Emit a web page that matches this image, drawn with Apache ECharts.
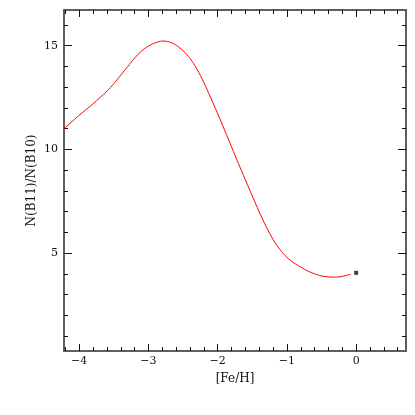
<!DOCTYPE html>
<html>
<head>
<meta charset="utf-8">
<script src="https://cdn.jsdelivr.net/npm/echarts@6/dist/echarts.min.js"></script>
<style>html,body{margin:0;padding:0;background:#fff}#c{width:415px;height:415px}</style>
</head>
<body>
<div id="c"></div>
<script>
// Model curve: [Fe/H] vs N(B11)/N(B10)
var feh = [-4.22,-4.1,-4.0,-3.9,-3.8,-3.7,-3.6,-3.5,-3.4,-3.3,-3.2,-3.1,-3.0,-2.9,-2.8,-2.7,-2.6,-2.5,-2.4,-2.3,-2.2,-2.1,-2.0,-1.9,-1.8,-1.7,-1.6,-1.5,-1.4,-1.3,-1.2,-1.1,-1.0,-0.9,-0.8,-0.7,-0.6,-0.5,-0.4,-0.3,-0.2,-0.08];
var ratio = [11.0,11.35,11.65,11.92,12.2,12.5,12.8,13.17,13.58,13.99,14.4,14.74,14.98,15.14,15.22,15.18,15.02,14.75,14.38,13.87,13.22,12.48,11.72,10.93,10.12,9.32,8.53,7.75,6.99,6.28,5.66,5.17,4.8,4.53,4.32,4.14,4.0,3.9,3.85,3.84,3.88,3.98];
// Observed (solar) point
var obsFeh = [0];
var obsRatio = [4.05];
// Axis ticks
var xMajor = [-4,-3,-2,-1,0];
var yMajor = [5,10,15];
var xRange = [-4.22, 0.72];
var yRange = [0.28, 16.72];

var xMinor = [];
for (var i = -21; i <= 3; i++) { if (i % 5 !== 0) xMinor.push(+(i*0.2).toFixed(1)); }
var yMinor = [];
for (var j = 1; j <= 16; j++) { if (j % 5 !== 0) yMinor.push(j); }

var lineData = feh.map(function(x,k){return [x, ratio[k]];});
var obsData = obsFeh.map(function(x,k){return [x, obsRatio[k]];});

var FONT = 'DejaVu Serif';
var axisLine = {show:true, onZero:false, lineStyle:{color:'#555', width:1.5}};
function fmt(v){ return v < 0 ? '\u2212' + Math.abs(v) : String(v); }

function xAx(pos, ticks, len, labels){
  return {
    type:'value', position:pos, min:xRange[0], max:xRange[1],
    axisLine: axisLine, splitLine:{show:false},
    axisTick:{show:true, inside:true, length:len, customValues:ticks, lineStyle:{color:'#111', width:1}},
    axisLabel: labels ? {show:true, customValues:xMajor, formatter:fmt, fontFamily:FONT, fontSize:11, color:'#111', margin:5} : {show:false},
    name: labels ? '[Fe/H]' : '', nameLocation:'middle', nameGap:22, nameMoveOverlap:false,
    nameTextStyle:{fontFamily:FONT, fontSize:12, color:'#111'}
  };
}
function yAx(pos, ticks, len, labels){
  return {
    type:'value', position:pos, min:yRange[0], max:yRange[1],
    axisLine: axisLine, splitLine:{show:false},
    axisTick:{show:true, inside:true, length:len, customValues:ticks, lineStyle:{color:'#111', width:1}},
    axisLabel: labels ? {show:true, customValues:yMajor, formatter:fmt, fontFamily:FONT, fontSize:11, color:'#111', margin:6} : {show:false},
    name: labels ? 'N(B11)/N(B10)' : '', nameLocation:'middle', nameGap:26, nameRotate:90, nameMoveOverlap:false,
    nameTextStyle:{fontFamily:FONT, fontSize:12, color:'#111'}
  };
}

var chart = echarts.init(document.getElementById('c'), null, {renderer:'canvas'});
chart.setOption({
  animation:false,
  backgroundColor:'#fff',
  grid:{left:64, right:9, top:10, bottom:64, containLabel:false},
  xAxis:[xAx('bottom', xMajor, 7, true), xAx('bottom', xMinor, 4, false), xAx('top', xMajor, 7, false), xAx('top', xMinor, 4, false)],
  yAxis:[yAx('left', yMajor, 8, true), yAx('left', yMinor, 4, false), yAx('right', yMajor, 8, false), yAx('right', yMinor, 4, false)],
  series:[
    {type:'line', xAxisIndex:0, yAxisIndex:0, data:lineData, smooth:0.4, showSymbol:false,
     lineStyle:{color:'#ff0000', width:1}},
    {type:'scatter', xAxisIndex:0, yAxisIndex:0, data:obsData, symbol:'rect', symbolSize:4,
     itemStyle:{color:'#111'}}
  ]
});
</script>
</body>
</html>
